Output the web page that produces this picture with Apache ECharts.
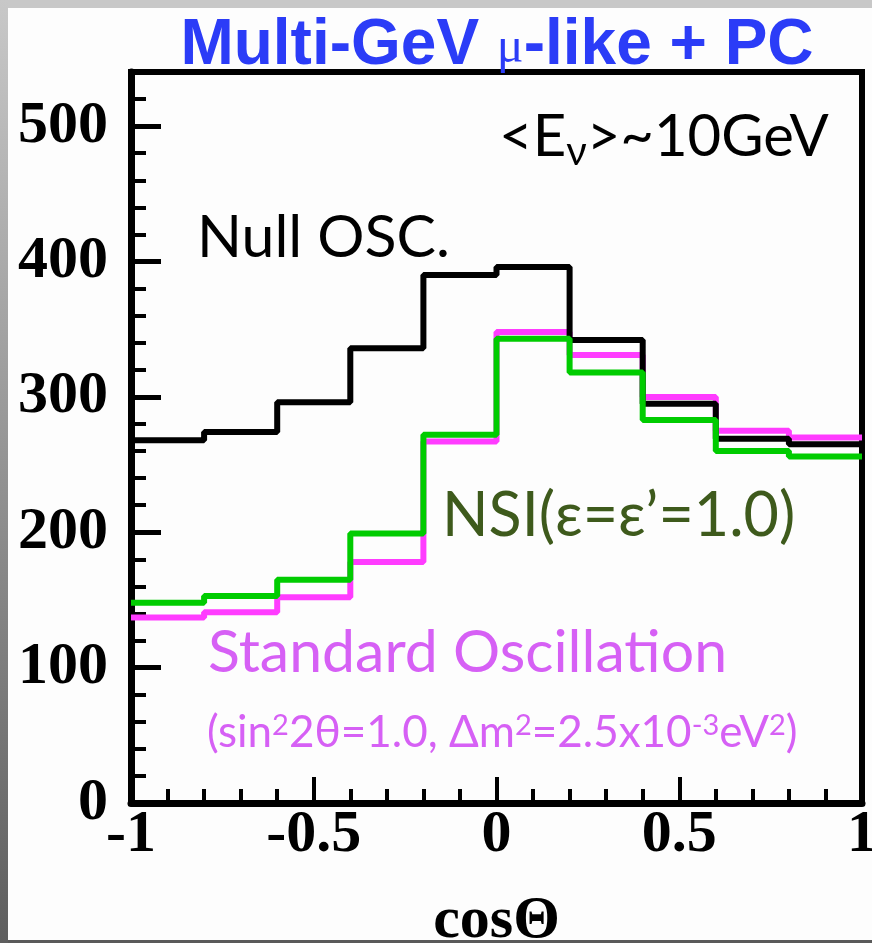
<!DOCTYPE html>
<html><head><meta charset="utf-8">
<script src="https://cdn.jsdelivr.net/npm/echarts@6/dist/echarts.min.js"></script>
<style>html,body{margin:0;padding:0;background:#fdfdfd;}#c{width:872px;height:943px;}</style>
</head><body><div id="c"></div>
<script>
// ---- data ----
const binEdges = [-1, -0.8, -0.6, -0.4, -0.2, 0, 0.2, 0.4, 0.6, 0.8, 1];
const nullOsc = [268, 274, 296, 336, 390, 396, 342, 295, 269, 265];
const standardOsc = [137, 141, 152, 178, 267, 348, 331, 300, 275, 270];
const nsi = [148, 153, 165, 199, 272, 343, 318, 283, 260, 256];
const xTickValues = [-1, -0.5, 0, 0.5, 1];
const xTickLabels = ['-1', '-0.5', '0', '0.5', '1'];
const yTickValues = [0, 100, 200, 300, 400, 500];
const yTickLabels = ['0', '100', '200', '300', '400', '500'];

function stepData(vals) {
  return binEdges.map((e, i) => [e, vals[Math.min(i, vals.length - 1)]]);
}
function lookup(vals, labels, v) {
  for (let i = 0; i < vals.length; i++) if (Math.abs(vals[i] - v) < 1e-9) return labels[i];
  return '';
}

const chart = echarts.init(document.getElementById('c'), null, {renderer: 'canvas'});
const serifBold = {fontFamily: 'Liberation Serif', fontWeight: 'bold', fontSize: 60, color: '#000'};
const gill = 'Lato';

const option = {
  animation: false,
  backgroundColor: '#fdfdfd',
  grid: {left: 131, right: 10, top: 72, bottom: 140, show: true, borderColor: '#000', borderWidth: 6,
         backgroundColor: 'transparent', outerBoundsMode: 'none', containLabel: false},
  xAxis: {
    type: 'value', min: -1, max: 1, interval: 0.5,
    name: 'cosΘ', nameLocation: 'middle', nameGap: 88,
    nameTextStyle: serifBold,
    axisLine: {show: true, onZero: false, lineStyle: {color: '#000', width: 7}},
    axisTick: {show: true, inside: true, length: 26, lineStyle: {color: '#000', width: 4}},
    minorTick: {show: true, splitNumber: 5, length: 14, lineStyle: {color: '#000', width: 4}},
    splitLine: {show: false},
    axisLabel: Object.assign({margin: 2, formatter: v => lookup(xTickValues, xTickLabels, v)}, serifBold)
  },
  yAxis: {
    type: 'value', min: 0, max: 540, interval: 100,
    axisLine: {show: true, onZero: false, lineStyle: {color: '#000', width: 7}},
    axisTick: {show: true, inside: true, length: 30, lineStyle: {color: '#000', width: 5}},
    minorTick: {show: true, splitNumber: 5, length: 15, lineStyle: {color: '#000', width: 4}},
    splitLine: {show: false},
    axisLabel: Object.assign({margin: 23, showMaxLabel: false, formatter: v => lookup(yTickValues, yTickLabels, v)}, serifBold)
  },
  series: [
    {name: 'Standard Oscillation', type: 'line', step: 'end', symbol: 'none', data: stepData(standardOsc),
     lineStyle: {color: '#ff3cff', width: 6}, z: 2},
    {name: 'Null OSC.', type: 'line', step: 'end', symbol: 'none', data: stepData(nullOsc),
     lineStyle: {color: '#000000', width: 6}, z: 3},
    {name: 'NSI', type: 'line', step: 'end', symbol: 'none', data: stepData(nsi),
     lineStyle: {color: '#00cc00', width: 6}, z: 4}
  ],
  graphic: [
    {type: 'rect', left: 0, top: 0, z: 100, shape: {width: 872, height: 8}, style: {fill: '#c8c8c8'}},
    {type: 'rect', left: 0, top: 0, z: 101, shape: {width: 8, height: 943},
     style: {fill: new echarts.graphic.LinearGradient(0, 0, 0, 1, [{offset: 0, color: '#c8c8c8'}, {offset: 1, color: '#5e5e5e'}])}},
    {type: 'rect', left: 0, top: 940, z: 100, shape: {width: 872, height: 3}, style: {fill: '#5a5a5a'}},
    {type: 'text', x: 497, y: 54, z: 50, style: {
      text: '{a|Multi-GeV }{mu|μ}{a|-like + PC}', align: 'center', verticalAlign: 'middle',
      rich: {
        a: {fontFamily: 'Liberation Sans', fontWeight: 'bold', fontSize: 64, lineHeight: 80, fill: '#2b3cf7', verticalAlign: 'top'},
        mu: {fontFamily: 'Liberation Serif', fontWeight: 'normal', fontSize: 50, lineHeight: 70, padding: [10, 0, 0, 0], fill: '#2b3cf7', verticalAlign: 'top'}
      }}},
    {type: 'text', x: 499, y: 143, z: 50, style: {
      text: '{a|<E}{s|ν}{a|>~10GeV}', align: 'left', verticalAlign: 'middle',
      rich: {
        a: {fontFamily: gill, fontSize: 58, lineHeight: 70, fill: '#000', verticalAlign: 'top'},
        s: {fontFamily: gill, fontSize: 40, lineHeight: 46, padding: [24, 0, 0, 0], fill: '#000', verticalAlign: 'top'}
      }}},
    {type: 'text', x: 197, y: 238, z: 50, style: {text: 'Null OSC.', fontFamily: gill, fontSize: 59, fill: '#000', align: 'left', verticalAlign: 'middle'}},
    {type: 'text', x: 442, y: 516, z: 50, style: {text: 'NSI(ε=ε’=1.0)', fontFamily: gill, fontSize: 61, fill: '#3e5a1c', align: 'left', verticalAlign: 'middle'}},
    {type: 'text', x: 208, y: 653, z: 50, style: {text: 'Standard Oscillation', fontFamily: gill, fontSize: 59, fill: '#d660f5', align: 'left', verticalAlign: 'middle'}},
    {type: 'text', x: 207, y: 741, z: 50, style: {
      text: '{a|(sin}{p|2}{a|2θ=1.0, Δm}{p|2}{a|=2.5x10}{p|-3}{a|eV}{p|2}{a|)}', align: 'left', verticalAlign: 'middle',
      rich: {
        a: {fontFamily: gill, fontSize: 44, lineHeight: 60, fill: '#d660f5', verticalAlign: 'top'},
        p: {fontFamily: gill, fontSize: 29, lineHeight: 36, padding: [0, 0, 24, 0], fill: '#d660f5', verticalAlign: 'top'}
      }}}
  ]
};
chart.setOption(option);
</script></body></html>
